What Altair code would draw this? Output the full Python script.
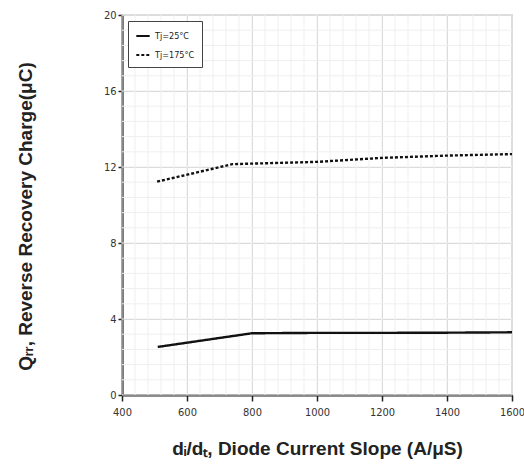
import altair as alt
import pandas as pd

# Reverse recovery charge vs. diode current slope
slope_25 = [510, 800, 1000, 1200, 1400, 1600]
qrr_25 = [2.53, 3.25, 3.27, 3.27, 3.28, 3.30]

slope_175 = [508, 740, 1000, 1200, 1400, 1600]
qrr_175 = [11.23, 12.15, 12.27, 12.48, 12.60, 12.68]

series_names = ["Tj=25°C", "Tj=175°C"]

x_ticks = [400, 600, 800, 1000, 1200, 1400, 1600]
y_ticks = [0, 4, 8, 12, 16, 20]
x_minor = [400 + 40 * i for i in range(31)]
y_minor = [0.8 * i for i in range(26)]

df = pd.concat([
    pd.DataFrame({"slope": slope_25, "qrr": qrr_25, "series": series_names[0], "order": range(len(slope_25))}),
    pd.DataFrame({"slope": slope_175, "qrr": qrr_175, "series": series_names[1], "order": range(len(slope_175))}),
])

narrow = "DejaVu Sans Condensed, Liberation Sans, sans-serif"
bold_font = "Liberation Sans, Arial, sans-serif"

xscale = alt.Scale(domain=[400, 1600], nice=False, zero=False)
yscale = alt.Scale(domain=[0, 20], nice=False)

x_axis = alt.Axis(
    values=x_ticks, format="d", title="dᵢ/dₜ, Diode Current Slope (A/μS)",
    grid=True, gridColor="#c9c9c9", gridWidth=1,
    domainColor="#222222", domainWidth=2.2,
    tickColor="#222222", tickWidth=1.5, tickSize=6,
    labelFont=narrow, labelFontSize=11, labelColor="#333333",
    labelPadding=5, labelFlush=False,
    titleFont=bold_font, titleFontSize=19, titleFontWeight="bold",
    titleColor="#222222", titlePadding=22,
)
y_axis = alt.Axis(
    values=y_ticks, format="d", title="Qᵣᵣ, Reverse Recovery Charge(μC)",
    grid=True, gridColor="#c9c9c9", gridWidth=1,
    domainColor="#222222", domainWidth=2.2,
    tickColor="#222222", tickWidth=1.5, tickSize=4,
    labelFont=narrow, labelFontSize=11, labelColor="#333333",
    labelPadding=2,
    titleFont=bold_font, titleFontSize=19, titleFontWeight="bold",
    titleColor="#222222", titlePadding=68, titleY=201,
)

minor_v = alt.Chart(pd.DataFrame({"v": x_minor})).mark_rule(color="#efefef", strokeWidth=1).encode(
    x=alt.X("v:Q", scale=xscale, axis=x_axis)
)
minor_h = alt.Chart(pd.DataFrame({"v": y_minor})).mark_rule(color="#efefef", strokeWidth=1).encode(
    y=alt.Y("v:Q", scale=yscale, axis=y_axis)
)

legend_cfg = dict(
    title=None, orient="none", legendX=6, legendY=6,
    symbolType="stroke", symbolSize=180, symbolStrokeWidth=2.2,
    labelFont=narrow, labelFontSize=9, labelColor="#222222",
    strokeColor="#444444", padding=7, rowPadding=6, fillColor="white",
)

lines = alt.Chart(df).mark_line(strokeWidth=2.4).encode(
    x=alt.X("slope:Q", scale=xscale, axis=x_axis),
    y=alt.Y("qrr:Q", scale=yscale, axis=y_axis),
    order="order:Q",
    color=alt.Color("series:N", scale=alt.Scale(domain=series_names, range=["#111111", "#111111"]),
                    legend=alt.Legend(**legend_cfg)),
    strokeDash=alt.StrokeDash("series:N", scale=alt.Scale(domain=series_names, range=[[1, 0], [3, 2]]),
                              legend=alt.Legend(**legend_cfg)),
)

chart = alt.layer(minor_v, minor_h, lines).properties(
    width=390, height=380,
    autosize=alt.AutoSizeParams(type="none"),
    padding={"left": 122, "top": 15, "right": 12, "bottom": 73},
    background="white",
).configure_view(stroke="#bbbbbb", strokeWidth=1.5)

chart.save("out.html", embed_options={"renderer": "svg", "actions": False})
